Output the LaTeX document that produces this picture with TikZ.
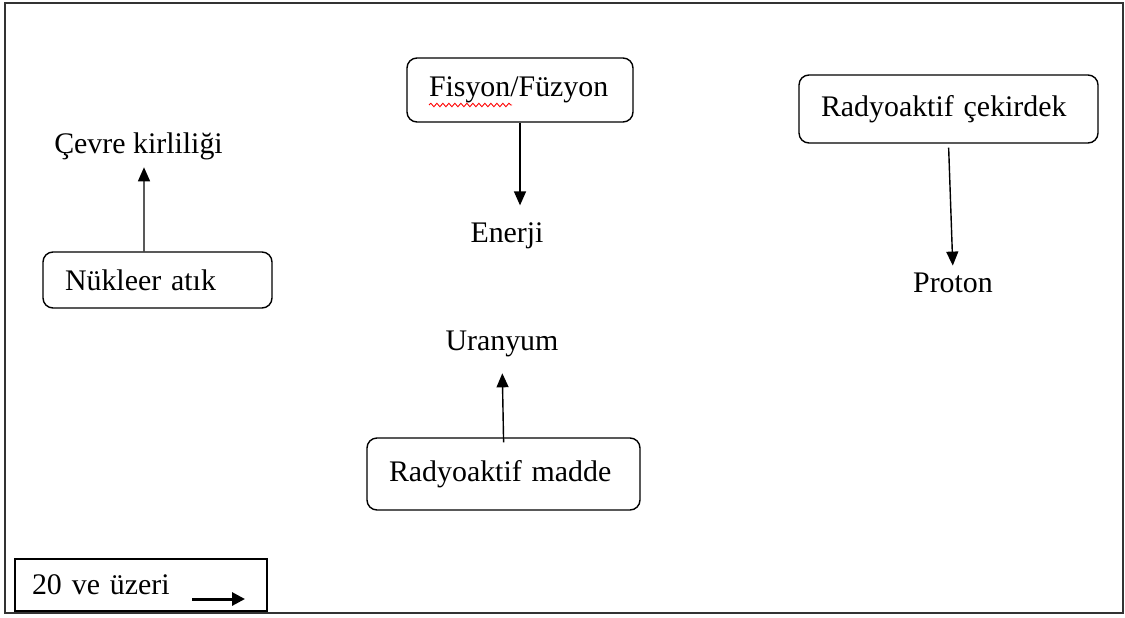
\documentclass[tikz,border=0pt]{standalone}
\usepackage{fontspec}
\setmainfont{Liberation Serif}
\usetikzlibrary{arrows.meta,decorations.pathmorphing}

\tikzset{
  kutu/.style={draw,rounded corners=0.2cm,line width=0.8pt,inner xsep=0.44cm,
    align=left,minimum height=#1},
  etiket/.style={inner sep=0pt,anchor=base},
  ok/.style={line width=0.8pt,-{Triangle[width=0.24cm,length=0.28cm]}}
}

\begin{document}
\begin{tikzpicture}[font=\fontsize{17pt}{20pt}\selectfont]
    \useasboundingbox (0,0) rectangle (22.5,12.34);
    \draw[line width=1.2pt,black!80] (0.1,0.08) rectangle (22.46,12.28);

    \node[kutu=1.28cm,text width=3.64cm] (fisyon) at (10.4,10.54) {Fisyon/Füzyon};
    \draw[red,line width=0.5pt,decorate,decoration={snake,amplitude=0.035cm,segment length=0.12cm}]
      (8.58,10.24) -- (10.24,10.24);
    \node[etiket] (enerji) at (10.14,7.5) {Enerji};
    \draw[ok,shorten >=0.33cm] (fisyon.south) -- (fisyon.south |- enerji.north);

    \node[kutu=1.12cm,text width=3.70cm] (nukleer) at (3.15,6.74) {Nükleer atık};
    \node[etiket] (cevre) at (2.77,9.28) {Çevre kirliliği};
    \draw[ok,shorten >=0.15cm] ([xshift=-0.27cm]nukleer.north) -- ([xshift=0.11cm]cevre.south);

    \node[kutu=1.36cm,text width=5.10cm] (cekirdek) at (18.97,10.16) {Radyoaktif çekirdek};
    \node[etiket] (proton) at (19.06,6.5) {Proton};
    \draw[ok,shorten <=0.08cm,shorten >=0.13cm] (cekirdek.south) -- (proton.north);

    \node[kutu=1.44cm,text width=4.58cm] (madde) at (10.07,2.86) {Radyoaktif madde};
    \node[etiket] (uranyum) at (10.04,5.34) {Uranyum};
    \draw[ok,shorten <=-0.1cm,shorten >=0.33cm] (madde.north) -- (uranyum.south);

    \node[draw,line width=0.8pt,inner xsep=0.34cm,text width=4.36cm,align=left,
      minimum height=1.04cm] (lejant) at (2.82,0.64) {20 ve üzeri};
    \coordinate (okbas) at (3.84,0.36);
    \coordinate (oksonu) at (4.9,0.36);
    \draw[line width=1.7pt,-{Triangle[width=0.26cm,length=0.26cm]}] (okbas) -- (oksonu);
\end{tikzpicture}
\end{document}
